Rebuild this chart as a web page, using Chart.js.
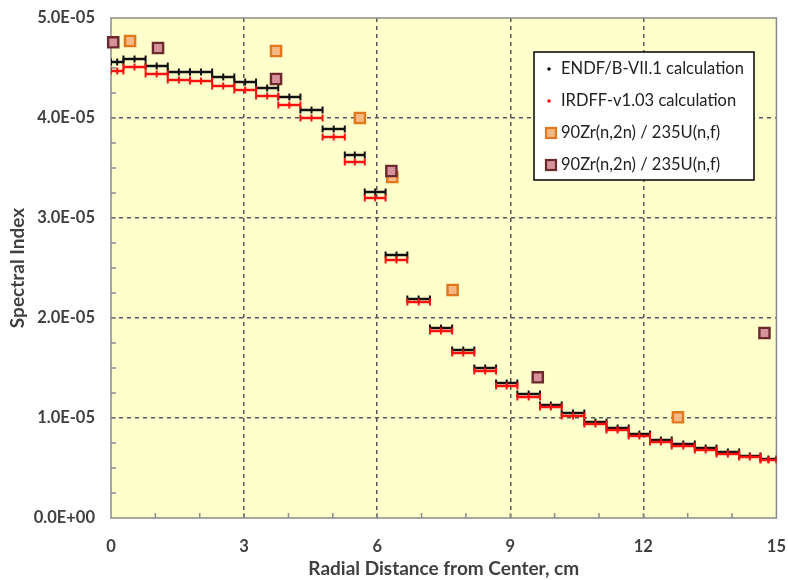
<!DOCTYPE html>
<html>
<head>
<meta charset="utf-8">
<script src="https://cdn.jsdelivr.net/npm/chart.js@4.4.0/dist/chart.umd.min.js"></script>
<style>
  html, body { margin: 0; padding: 0; background: #fff; }
  #wrap { width: 788px; height: 580px; }
</style>
</head>
<body>
<div id="wrap"><canvas id="chart"></canvas></div>
<script>
// radial zone edges, cm
const zoneEdges = [0, 0.28, 0.78, 1.28, 1.78, 2.28, 2.78, 3.27, 3.77, 4.27, 4.77, 5.27, 5.72, 6.19, 6.68, 7.19,
  7.69, 8.19, 8.68, 9.16, 9.67, 10.16, 10.67, 11.17, 11.67, 12.15, 12.64, 13.16, 13.65, 14.16, 14.64, 15.0];

// calculated spectral index per zone
const endfValues = [4.56e-5, 4.59e-5, 4.52e-5, 4.46e-5, 4.46e-5, 4.41e-5, 4.36e-5, 4.30e-5, 4.21e-5, 4.08e-5,
  3.89e-5, 3.63e-5, 3.26e-5, 2.63e-5, 2.19e-5, 1.90e-5, 1.68e-5, 1.50e-5, 1.35e-5, 1.24e-5,
  1.13e-5, 1.05e-5, 0.96e-5, 0.90e-5, 0.84e-5, 0.78e-5, 0.74e-5, 0.70e-5, 0.66e-5, 0.62e-5, 0.59e-5];
const irdffValues = [4.47e-5, 4.51e-5, 4.44e-5, 4.38e-5, 4.37e-5, 4.32e-5, 4.28e-5, 4.22e-5, 4.13e-5, 4.00e-5,
  3.81e-5, 3.56e-5, 3.20e-5, 2.58e-5, 2.16e-5, 1.87e-5, 1.65e-5, 1.47e-5, 1.32e-5, 1.21e-5,
  1.11e-5, 1.02e-5, 0.94e-5, 0.88e-5, 0.82e-5, 0.76e-5, 0.72e-5, 0.68e-5, 0.64e-5, 0.61e-5, 0.58e-5];

// measured points
const expAx = [0.43, 3.72, 5.61, 6.34, 7.70, 12.78];
const expAy = [4.77e-5, 4.67e-5, 4.00e-5, 3.41e-5, 2.28e-5, 1.007e-5];
const expBx = [0.05, 1.06, 3.72, 6.32, 9.62, 14.73];
const expBy = [4.757e-5, 4.70e-5, 4.39e-5, 3.47e-5, 1.407e-5, 1.85e-5];

const xTicks = [0, 3, 6, 9, 12, 15];
const yTicks = [0, 1e-5, 2e-5, 3e-5, 4e-5, 5e-5];

const FONT = 'Lato, "Open Sans", sans-serif';

function stepPoints(vals){
  const pts = [];
  vals.forEach((v, i) => {
    const a = zoneEdges[i], b = zoneEdges[i+1];
    pts.push({x:a, y:v}, {x:(a+b)/2, y:v}, {x:b, y:v}, {x:b, y:null});
  });
  return pts;
}

function sci(v){
  if (Math.abs(v) < 1e-12) return '0.0E+00';
  const e = Math.floor(Math.log10(Math.abs(v)) + 1e-9);
  const m = v / Math.pow(10, e);
  return m.toFixed(1) + 'E' + (e < 0 ? '-' : '+') + String(Math.abs(e)).padStart(2, '0');
}

// plot background, frame and inward ticks
const frame = {
  id: 'frame',
  beforeDraw(chart){
    const {ctx, chartArea:a} = chart;
    ctx.save();
    ctx.fillStyle = '#ffffcc';
    ctx.fillRect(a.left, a.top, a.right - a.left, a.bottom - a.top);
    ctx.restore();
  },
  beforeDatasetsDraw(chart){
    const {ctx, chartArea:a, scales} = chart;
    ctx.save();
    ctx.strokeStyle = '#8a8a8a';
    ctx.lineWidth = 1.5;
    ctx.beginPath();
    for (let x = 1; x < 15; x++){
      const px = scales.x.getPixelForValue(x);
      ctx.moveTo(px, a.bottom); ctx.lineTo(px, a.bottom - 5);
    }
    for (let k = 1; k < 20; k++){
      const py = scales.y.getPixelForValue(k * 0.25e-5);
      ctx.moveTo(a.left, py); ctx.lineTo(a.left + 5, py);
    }
    ctx.stroke();
    ctx.strokeRect(a.left, a.top, a.right - a.left, a.bottom - a.top);
    ctx.restore();
  }
};

// legend box in the top right corner
const boxLegend = {
  id: 'boxLegend',
  afterDraw(chart){
    const {ctx} = chart;
    const x0 = 534, y0 = 52, w = 220, h = 128;
    ctx.save();
    ctx.fillStyle = '#fff';
    ctx.fillRect(x0, y0, w, h);
    ctx.strokeStyle = '#111';
    ctx.lineWidth = 1.6;
    ctx.strokeRect(x0, y0, w, h);
    ctx.font = '16.5px ' + FONT;
    ctx.textBaseline = 'middle';
    chart.data.datasets.forEach((ds, i) => {
      const y = y0 + 17 + i * 32;
      if (ds.legendMark === 'dot'){
        ctx.beginPath();
        ctx.arc(x0 + 15, y, 1.8, 0, Math.PI * 2);
        ctx.fillStyle = ds.borderColor;
        ctx.fill();
      } else {
        ctx.fillStyle = ds.pointBackgroundColor;
        ctx.strokeStyle = ds.pointBorderColor;
        ctx.lineWidth = 2.2;
        ctx.fillRect(x0 + 12, y - 5, 10, 10);
        ctx.strokeRect(x0 + 12, y - 5, 10, 10);
      }
      ctx.fillStyle = '#222';
      ctx.fillText(ds.label, x0 + 27, y);
    });
    ctx.restore();
  }
};

const stepStyle = color => ({
  showLine: true, spanGaps: false, borderColor: color, backgroundColor: color,
  borderWidth: 2.5, pointStyle: 'line', rotation: 90, pointRadius: 3.5,
  pointBorderColor: color, pointBorderWidth: 2, pointHoverRadius: 3.5, legendMark: 'dot'
});

new Chart(document.getElementById('chart'), {
  type: 'scatter',
  data: {
    datasets: [
      Object.assign({label: 'ENDF/B-VII.1 calculation', data: stepPoints(endfValues), order: 3}, stepStyle('#111111')),
      Object.assign({label: 'IRDFF-v1.03 calculation', data: stepPoints(irdffValues), order: 2}, stepStyle('#ff1010')),
      {label: '90Zr(n,2n) / 235U(n,f)', data: expAx.map((x, i) => ({x, y: expAy[i]})), order: 1,
       pointStyle: 'rect', pointRadius: 7.2, pointHoverRadius: 7.2, pointBackgroundColor: '#f6b882',
       pointBorderColor: '#e2781e', pointBorderWidth: 2.4, clip: false, legendMark: 'square'},
      {label: '90Zr(n,2n) / 235U(n,f)', data: expBx.map((x, i) => ({x, y: expBy[i]})), order: 0,
       pointStyle: 'rect', pointRadius: 7.2, pointHoverRadius: 7.2, pointBackgroundColor: '#d6919a',
       pointBorderColor: '#6a2a2e', pointBorderWidth: 2.4, clip: false, legendMark: 'square'}
    ]
  },
  options: {
    responsive: true, maintainAspectRatio: false, animation: false,
    layout: {padding: {top: 18, right: 9, left: 0, bottom: 0}},
    plugins: {legend: {display: false}, tooltip: {enabled: false}},
    scales: {
      x: {
        type: 'linear', min: 0, max: 15,
        afterBuildTicks: s => { s.ticks = xTicks.map(v => ({value: v})); },
        afterFit: s => { s.height = 62; },
        grid: {
          drawTicks: true, tickLength: 17, tickColor: 'rgba(0,0,0,0)',
          color: c => (c.tick && c.tick.value > 0 && c.tick.value < 15) ? '#555' : 'rgba(0,0,0,0)',
          lineWidth: 1.5
        },
        border: {display: false, dash: [4, 4]},
        ticks: {padding: 2, color: '#404040', font: {family: FONT, size: 16.5, weight: 'bold'}, maxRotation: 0},
        title: {display: true, text: 'Radial Distance from Center, cm', color: '#404040',
                font: {family: FONT, size: 19, weight: 'bold'}, padding: {top: 2, bottom: 0}}
      },
      y: {
        type: 'linear', min: 0, max: 5e-5,
        afterBuildTicks: s => { s.ticks = yTicks.map(v => ({value: v})); },
        afterFit: s => { s.width = 111; },
        grid: {
          drawTicks: true, tickLength: 14, tickColor: 'rgba(0,0,0,0)',
          color: c => (c.tick && c.tick.value > 1e-9 && c.tick.value < 4.9e-5) ? '#555' : 'rgba(0,0,0,0)',
          lineWidth: 1.5
        },
        border: {display: false, dash: [4, 4]},
        ticks: {padding: 2, color: '#404040', font: {family: FONT, size: 16.5, weight: 'bold'},
                callback: v => sci(v)},
        title: {display: true, text: 'Spectral Index', color: '#404040',
                font: {family: FONT, size: 19, weight: 'bold'}, padding: {top: 6, bottom: 0}}
      }
    }
  },
  plugins: [frame, boxLegend]
});
</script>
</body>
</html>
